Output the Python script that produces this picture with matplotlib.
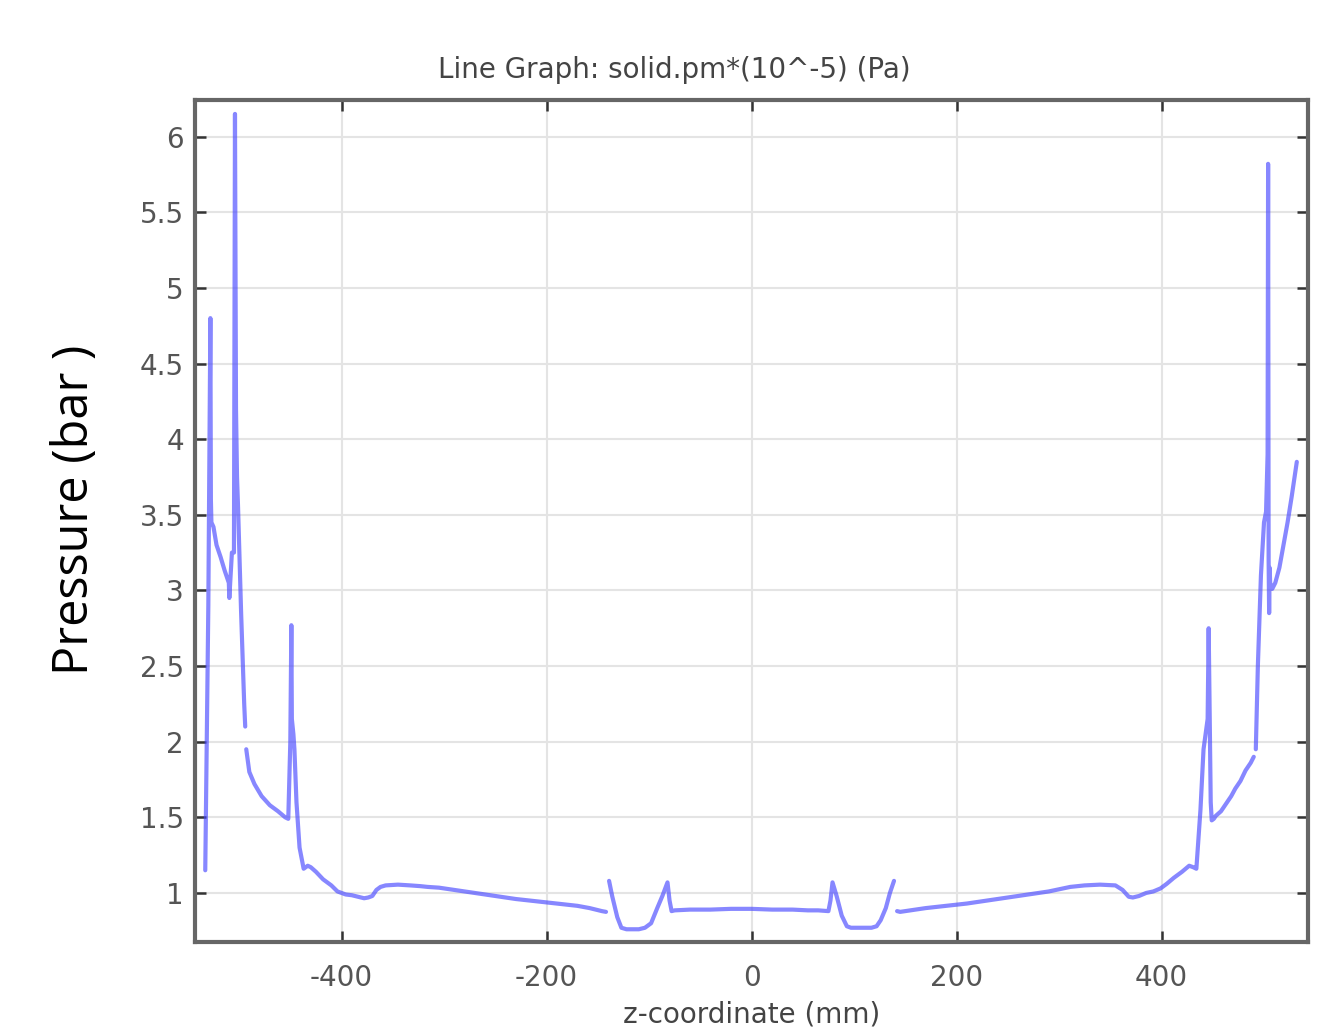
import numpy as np
import matplotlib
matplotlib.use("Agg")
import matplotlib.pyplot as plt

plt.rcParams["axes.unicode_minus"] = False

# z-coordinate (mm) and pressure (bar); NaN separates boundary segments
z = [-533, -530, -528, -527.5, -527, -525, -522, -518, -514, -510, -509.5, -507, -505, -504, -503, -502, -501, -498, -495, -494,
     np.nan,
     -493, -491, -490, -485, -478, -470, -462, -455, -452, -450, -449, -448.5, -447, -446, -444, -441, -437, -433, -430, -425, -418, -410, -404, -400, -396, -390, -384, -378, -374, -370, -366, -362, -357, -345, -333, -323, -316, -305, -290, -270, -250, -230, -210, -190, -170, -158, -146, -142,
     np.nan,
     -139, -136, -131, -127, -122, -116, -110, -104, -98, -92, -87, -82, -80, -78, -75, -60, -40, -20, 0, 20, 40, 55, 65, 75, 77, 79, 83, 88, 93, 97, 103, 110, 117, 122, 126, 131, 135, 139,
     np.nan,
     142, 145, 150, 170, 190, 210, 230, 250, 270, 290, 311, 325, 340, 355, 362, 368, 372, 378, 385, 392, 399, 405, 412, 420, 427, 431, 434, 438, 441, 443, 445, 446, 447, 448, 449, 451, 453, 458, 463, 468, 472, 477, 482, 487, 490,
     np.nan,
     492, 494, 497, 500, 502, 503.5, 504, 504.5, 505, 505.5, 506, 508, 511, 515, 519, 523, 527, 530, 532]

p = [1.15, 2.9, 4.80, 3.6, 3.45, 3.42, 3.30, 3.22, 3.13, 3.05, 2.95, 3.25, 3.25, 6.15, 4.2, 3.75, 3.55, 2.85, 2.25, 2.10,
     np.nan,
     1.95, 1.85, 1.80, 1.72, 1.64, 1.58, 1.54, 1.50, 1.49, 2.0, 2.77, 2.15, 2.05, 1.95, 1.60, 1.30, 1.16, 1.18, 1.17, 1.14, 1.09, 1.05, 1.01, 1.00, 0.99, 0.985, 0.975, 0.965, 0.97, 0.98, 1.02, 1.04, 1.05, 1.055, 1.05, 1.045, 1.04, 1.035, 1.02, 1.00, 0.98, 0.96, 0.945, 0.93, 0.915, 0.90, 0.88, 0.875,
     np.nan,
     1.08, 0.98, 0.84, 0.77, 0.76, 0.76, 0.76, 0.77, 0.80, 0.90, 0.98, 1.07, 0.95, 0.88, 0.885, 0.89, 0.89, 0.895, 0.895, 0.89, 0.89, 0.885, 0.885, 0.88, 0.95, 1.07, 0.98, 0.85, 0.78, 0.77, 0.77, 0.77, 0.77, 0.78, 0.82, 0.90, 1.00, 1.08,
     np.nan,
     0.88, 0.875, 0.88, 0.90, 0.915, 0.93, 0.95, 0.97, 0.99, 1.01, 1.04, 1.05, 1.055, 1.05, 1.02, 0.975, 0.97, 0.98, 1.00, 1.01, 1.03, 1.06, 1.10, 1.14, 1.18, 1.17, 1.16, 1.55, 1.95, 2.05, 2.15, 2.75, 2.2, 1.60, 1.48, 1.49, 1.51, 1.54, 1.59, 1.64, 1.69, 1.74, 1.81, 1.86, 1.90,
     np.nan,
     1.95, 2.5, 3.1, 3.45, 3.52, 3.9, 5.82, 3.2, 2.85, 3.15, 3.05, 3.01, 3.05, 3.15, 3.30, 3.45, 3.62, 3.76, 3.85]

xticks = [-400, -200, 0, 200, 400]
yticks = [1, 1.5, 2, 2.5, 3, 3.5, 4, 4.5, 5, 5.5, 6]
ytick_labels = ["1", "1.5", "2", "2.5", "3", "3.5", "4", "4.5", "5", "5.5", "6"]

fig = plt.figure(figsize=(13.43, 10.34), dpi=100)
ax = fig.add_axes([0.1452, 0.089, 0.8288, 0.814])

ax.plot(z, p, color=(0.28, 0.28, 1.0), alpha=0.65, linewidth=3.0, solid_capstyle="round")

ax.set_xlim(-543, 543)
ax.set_ylim(0.676, 6.24)
ax.set_xticks(xticks)
ax.set_yticks(yticks)
ax.set_yticklabels(ytick_labels)

gray = "#555555"
ax.grid(True, color="#e4e4e4", linewidth=1.5)
ax.set_axisbelow(True)
ax.tick_params(direction="in", length=8, width=1.8, color="#333333",
               top=True, right=True, labelsize=20, labelcolor=gray, pad=8)
ax.tick_params(axis="x", pad=16)
for s in ax.spines.values():
    s.set_color("#666666")
    s.set_linewidth(3)

ax.set_title("Line Graph: solid.pm*(10^-5) (Pa)", fontsize=20, color="#444444", pad=16, x=0.431)
ax.set_xlabel("z-coordinate (mm)", fontsize=20, color="#444444", labelpad=6)
ax.set_ylabel("Pressure (bar )", fontsize=35, color="black", family="Open Sans")
ax.yaxis.set_label_coords(-0.085, 0.513)

fig.savefig("out.png", dpi=100, facecolor="white")
